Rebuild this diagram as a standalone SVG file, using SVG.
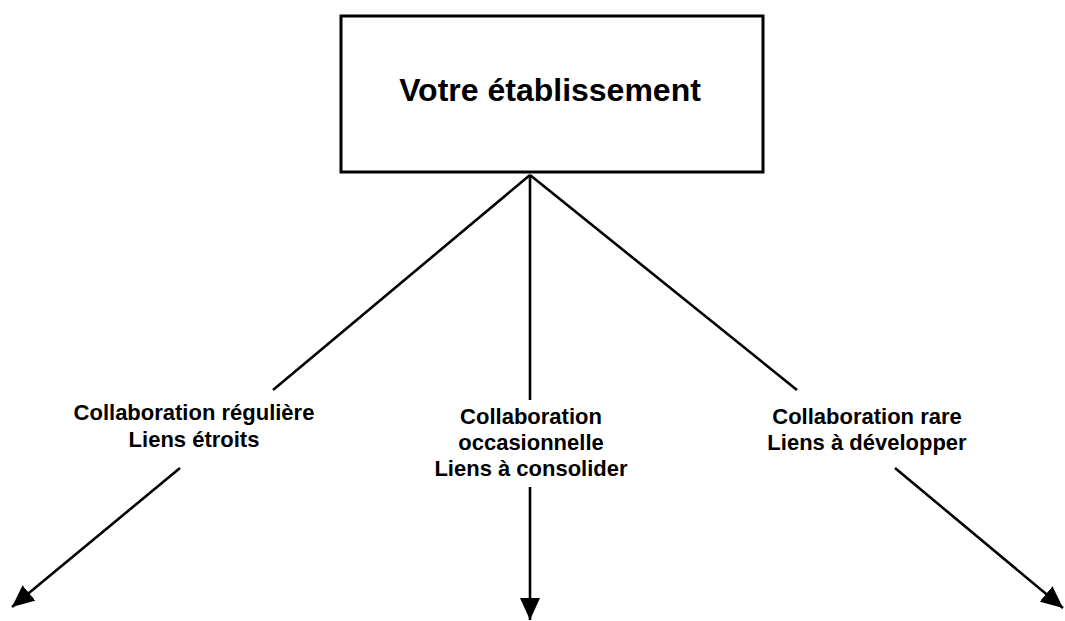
<svg xmlns="http://www.w3.org/2000/svg" width="1065" height="621" viewBox="0 0 1065 621">
  <style>
    .box { fill: #ffffff; stroke: #000000; stroke-width: 3; }
    .title { font-family: "Liberation Sans", Arial, sans-serif; font-weight: bold; font-size: 32px; fill: #000000; text-anchor: middle; }
    .label { font-family: "Liberation Sans", Arial, sans-serif; font-weight: bold; font-size: 22px; fill: #000000; text-anchor: middle; }
    .link { fill: none; stroke: #000000; stroke-width: 2.6; }
  </style>
  <defs>
    <marker id="arrow" markerUnits="userSpaceOnUse" markerWidth="24" markerHeight="20" refX="22" refY="10" orient="auto">
      <path d="M0,0 L22,10 L0,20 Z" fill="#000000"/>
    </marker>
  </defs>
  <rect width="1065" height="621" fill="#ffffff"/>

  <!-- connectors: each split around its label, arrowhead on the lower part -->
  <g id="connectors">
    <line class="link" x1="530" y1="175" x2="273" y2="390"/>
    <line class="link" x1="180" y1="468" x2="12" y2="607" marker-end="url(#arrow)"/>
    <line class="link" x1="530" y1="175" x2="530" y2="400"/>
    <line class="link" x1="530" y1="487" x2="530" y2="620" marker-end="url(#arrow)"/>
    <line class="link" x1="530" y1="175" x2="797" y2="390"/>
    <line class="link" x1="895" y1="468" x2="1063" y2="608" marker-end="url(#arrow)"/>
  </g>

  <g id="node-etablissement">
    <rect class="box" x="341" y="16" width="422" height="156"/>
    <text class="title" x="550" y="101">Votre établissement</text>
  </g>

  <g id="label-reguliere">
    <text class="label" x="194" y="420">Collaboration régulière</text>
    <text class="label" x="194" y="447">Liens étroits</text>
  </g>

  <g id="label-occasionnelle">
    <text class="label" x="531" y="424">Collaboration</text>
    <text class="label" x="531" y="450">occasionnelle</text>
    <text class="label" x="531" y="476">Liens à consolider</text>
  </g>

  <g id="label-rare">
    <text class="label" x="867" y="424">Collaboration rare</text>
    <text class="label" x="867" y="450">Liens à développer</text>
  </g>
</svg>
